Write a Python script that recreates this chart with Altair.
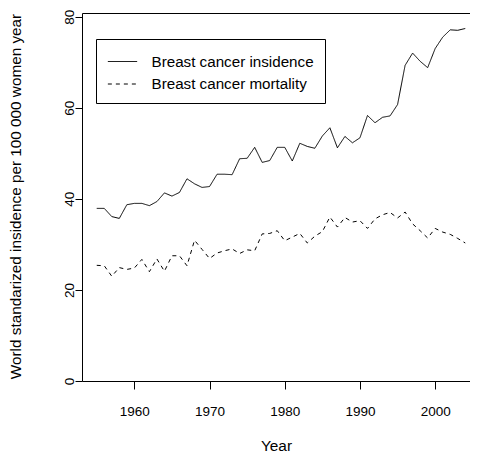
import altair as alt
import pandas as pd

years = list(range(1955, 2005))
incidence = [37.9, 37.9, 36.1, 35.7, 38.7, 39.0, 39.0, 38.5, 39.4, 41.3,
             40.6, 41.4, 44.4, 43.3, 42.5, 42.7, 45.4, 45.4, 45.3, 48.8,
             48.9, 51.3, 48.0, 48.4, 51.3, 51.3, 48.3, 52.2, 51.5, 51.1,
             53.8, 55.6, 51.2, 53.7, 52.3, 53.4, 58.3, 56.7, 57.9, 58.2,
             60.7, 69.3, 72.0, 70.2, 68.8, 73.0, 75.5, 77.1, 77.0, 77.4]
mortality = [25.4, 25.3, 23.0, 24.9, 24.5, 24.8, 26.7, 24.0, 26.8, 24.1,
             27.5, 27.5, 25.3, 30.9, 28.9, 26.9, 28.1, 28.6, 29.0, 28.0,
             28.8, 28.6, 32.3, 32.4, 33.0, 30.8, 31.6, 32.4, 30.3, 31.8,
             32.8, 36.0, 33.8, 35.9, 34.9, 35.2, 33.5, 35.6, 36.5, 37.0,
             35.8, 37.1, 34.5, 33.0, 31.4, 33.5, 32.7, 32.2, 31.3, 30.3]
series_names = ["Breast cancer insidence", "Breast cancer mortality"]
x_ticks = [1960, 1970, 1980, 1990, 2000]
y_ticks = [0, 20, 40, 60, 80]

rows = []
for name, vals in zip(series_names, [incidence, mortality]):
    for yr, v in zip(years, vals):
        rows.append({"year": yr, "value": v, "series": name})
df = pd.DataFrame(rows)

FONT = "Liberation Sans"
xscale = alt.Scale(domain=[1953.04, 2004.63], nice=False, zero=False)
yscale = alt.Scale(domain=[0, 80.8], nice=False, zero=False)

lines = alt.Chart(df).mark_line(color="black", strokeWidth=1).encode(
    x=alt.X("year:Q", scale=xscale,
            axis=alt.Axis(values=x_ticks, format="d", tickSize=8, labelPadding=15,
                          labelBaseline="top", grid=False,
                          domain=True, domainColor="black",
                          title="Year", titleY=64, titleBaseline="middle",
                          titleFontWeight="normal", titleFontSize=15.4)),
    y=alt.Y("value:Q", scale=yscale,
            axis=alt.Axis(values=y_ticks, tickSize=7, labelPadding=2,
                          labelAngle=270, labelAlign="center", labelBaseline="alphabetic",
                          grid=False, domain=True, domainColor="black",
                          title="World standarized insidence per 100 000 women year",
                          titleX=-67, titleY=183, titleAngle=270,
                          titleBaseline="middle", titleAlign="center",
                          titleFontWeight="normal", titleFontSize=15.3)),
    strokeDash=alt.StrokeDash("series:N",
                              scale=alt.Scale(domain=series_names, range=[[1, 0], [4, 4]]),
                              legend=alt.Legend(title=None, orient="none",
                                                legendX=14, legendY=26,
                                                symbolType="M-1.274,0H1.274", symbolSize=529,
                                                symbolStrokeWidth=1, symbolStrokeColor="black",
                                                symbolFillColor="transparent",
                                                symbolOffset=4,
                                                labelFontSize=15.2, labelFont=FONT,
                                                labelLimit=400,
                                                labelColor="black", labelOffset=17,
                                                strokeColor="black", fillColor="white",
                                                padding=10.5, rowPadding=1.5))
)

frame = alt.Chart(df).mark_point(opacity=0).encode(
    x=alt.X("year:Q", scale=xscale,
            axis=alt.Axis(orient="top", ticks=False, labels=False, grid=False,
                          domain=True, domainColor="black", title=None)),
)

chart = alt.layer(lines, frame).resolve_axis(x="independent").properties(
    width=388, height=368,
    autosize=alt.AutoSizeParams(type="none"),
    padding={"left": 74, "top": 5, "right": 0, "bottom": 73},
).configure_view(
    stroke=None
).configure_axis(
    labelFont=FONT, titleFont=FONT, labelFontSize=13.5, titleFontSize=15.3,
    labelColor="black", titleColor="black", tickColor="black", tickWidth=1
)

chart.save("out.html", embed_options={"renderer": "svg", "actions": False})
